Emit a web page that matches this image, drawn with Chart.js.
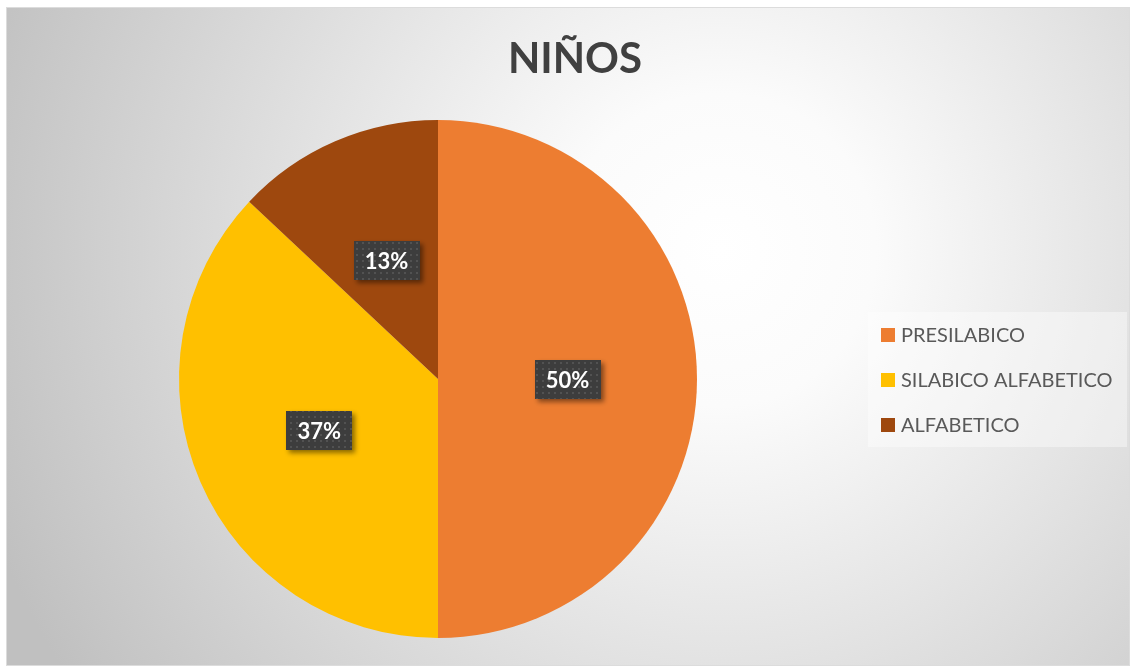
<!DOCTYPE html>
<html>
<head>
<meta charset="utf-8">
<script src="https://cdn.jsdelivr.net/npm/chart.js@4.4.1/dist/chart.umd.min.js"></script>
<style>
  html, body { margin: 0; padding: 0; background: #fff; }
  #ninosChart { display: block; }
</style>
</head>
<body>
<canvas id="ninosChart" width="1130" height="666"></canvas>
<script>
// datos del gráfico
const categories = ["PRESILABICO", "SILABICO ALFABETICO", "ALFABETICO"];
const percentages = [50, 37, 13];
const sliceColors = ["#ED7D31", "#FFC000", "#9E480E"];
const chartTitle = "NIÑOS";

// fondo gris con degradado radial (estilo Excel)
const fondoPlugin = {
    id: 'fondo',
    beforeDraw(chart) {
        const ctx = chart.ctx;
        const w = chart.width, h = chart.height;
        ctx.save();
        ctx.fillStyle = '#ffffff';
        ctx.fillRect(0, 0, w, h);
        const g = ctx.createRadialGradient(720, 250, 0, 720, 250, 780);
        g.addColorStop(0, '#ffffff');
        g.addColorStop(0.2, '#fbfbfb');
        g.addColorStop(1, '#c0c0c0');
        ctx.fillStyle = g;
        ctx.fillRect(6, 7, w - 6, h - 7);
        ctx.strokeStyle = '#dcdcdc';
        ctx.lineWidth = 1;
        ctx.strokeRect(6.5, 7.5, w - 7, h - 8);
        ctx.restore();
    }
};

// título centrado sobre todo el gráfico (no sólo el área del pastel)
const tituloPlugin = {
    id: 'titulo',
    afterDraw(chart) {
        const ctx = chart.ctx;
        ctx.save();
        ctx.font = 'bold 42px Lato';
        ctx.fillStyle = '#404040';
        ctx.textAlign = 'center';
        ctx.textBaseline = 'middle';
        ctx.fillText(chartTitle, 575, 59);
        ctx.restore();
    }
};

// patrón de puntos para las etiquetas
function crearPatron(ctx) {
    const c = document.createElement('canvas');
    c.width = 6; c.height = 6;
    const p = c.getContext('2d');
    p.fillStyle = '#3d3d3d';
    p.fillRect(0, 0, 6, 6);
    p.fillStyle = '#525252';
    p.fillRect(2, 2, 2, 2);
    return ctx.createPattern(c, 'repeat');
}

// etiquetas de porcentaje dentro de cada sector
const etiquetasPlugin = {
    id: 'etiquetas',
    afterDatasetsDraw(chart) {
        const ctx = chart.ctx;
        const meta = chart.getDatasetMeta(0);
        const patron = crearPatron(ctx);
        meta.data.forEach((arc, i) => {
            const pos = arc.tooltipPosition();
            const texto = chart.data.datasets[0].data[i] + '%';
            ctx.save();
            ctx.font = 'bold 22px Lato';
            const tw = ctx.measureText(texto).width;
            const bw = Math.round(tw + 22), bh = 39;
            const x = Math.round(pos.x - bw / 2), y = Math.round(pos.y - bh / 2);
            ctx.shadowColor = 'rgba(0,0,0,0.45)';
            ctx.shadowBlur = 5;
            ctx.shadowOffsetX = 3;
            ctx.shadowOffsetY = 3;
            ctx.fillStyle = patron;
            ctx.fillRect(x, y, bw, bh);
            ctx.shadowColor = 'transparent';
            ctx.fillStyle = '#ffffff';
            ctx.textAlign = 'center';
            ctx.textBaseline = 'middle';
            ctx.fillText(texto, pos.x, y + bh / 2 + 1);
            ctx.restore();
        });
    }
};

// leyenda a la derecha con caja clara
const leyendaPlugin = {
    id: 'leyenda',
    afterDraw(chart) {
        const ctx = chart.ctx;
        const colores = chart.data.datasets[0].backgroundColor;
        ctx.save();
        ctx.fillStyle = 'rgba(255,255,255,0.4)';
        ctx.fillRect(868, 312, 259, 135);
        ctx.font = '20px Lato';
        ctx.textBaseline = 'middle';
        chart.data.labels.forEach((lbl, i) => {
            const cy = 335 + i * 45;
            ctx.fillStyle = colores[i];
            ctx.fillRect(881, cy - 7, 14, 14);
            ctx.fillStyle = '#595959';
            ctx.fillText(lbl, 901, cy + 1);
        });
        ctx.restore();
    }
};

const ctx = document.getElementById('ninosChart').getContext('2d');
const ninosChart = new Chart(ctx, {
    type: 'pie',
    data: {
        labels: categories,
        datasets: [{
            data: percentages,
            backgroundColor: sliceColors,
            borderWidth: 0
        }]
    },
    options: {
        responsive: false,
        animation: false,
        layout: {
            padding: { left: 20, right: 274, top: 120, bottom: 28 }
        },
        plugins: {
            legend: { display: false },
            tooltip: { enabled: false },
            title: { display: false }
        }
    },
    plugins: [fondoPlugin, etiquetasPlugin, leyendaPlugin, tituloPlugin]
});
</script>
</body>
</html>
